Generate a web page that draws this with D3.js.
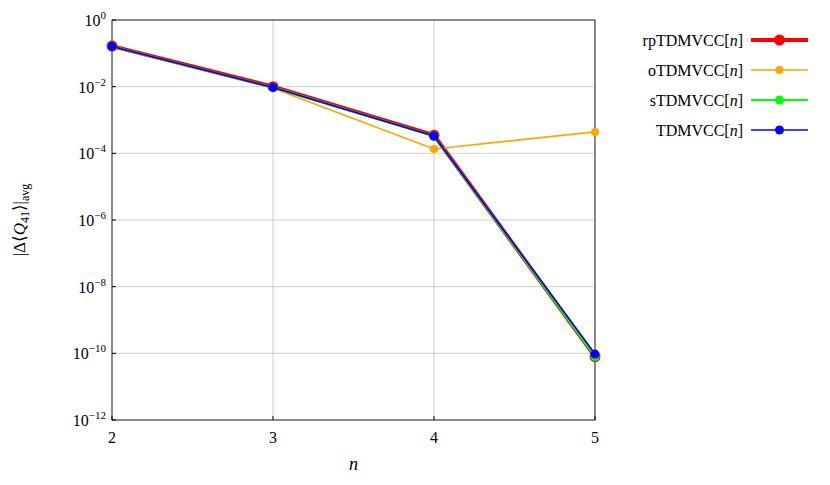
<!DOCTYPE html>
<html>
<head>
<meta charset="utf-8">
<script src="https://cdn.jsdelivr.net/npm/d3@7"></script>
<style>
body { margin: 0; background: #fff; }
text { font-family: "Liberation Serif", "DejaVu Serif", serif; }
</style>
</head>
<body>
<svg id="chart" width="830" height="485"></svg>
<script>
const nValues = [2, 3, 4, 5];
const yTickExps = [0, -2, -4, -6, -8, -10, -12];

const rpTDMVCC = [0.165, 0.0100, 3.5e-4, 8.0e-11];
const oTDMVCC = [0.160, 0.0090, 1.35e-4, 4.4e-4];
const sTDMVCC = [0.160, 0.0095, 3.3e-4, 8.0e-11];
const TDMVCC = [0.160, 0.0095, 3.3e-4, 9.5e-11];

const series = [
  { name: 'rpTDMVCC', values: rpTDMVCC, color: '#ff0000', width: 4, r: 5.5 },
  { name: 'oTDMVCC', values: oTDMVCC, color: '#ffa500', width: 1.6, r: 4 },
  { name: 'sTDMVCC', values: sTDMVCC, color: '#00ff00', width: 2.2, r: 4.5 },
  { name: 'TDMVCC', values: TDMVCC, color: '#0000ff', width: 1.6, r: 4.5 }
];

const svg = d3.select('#chart');
const pLeft = 112, pRight = 595, pTop = 20, pBottom = 420;

const x = d3.scaleLinear().domain([2, 5]).range([pLeft, pRight]);
const y = d3.scaleLog().domain([1e-12, 1]).range([pBottom, pTop]);

// grid
svg.append('g').selectAll('line').data(nValues).join('line')
  .attr('x1', d => x(d)).attr('x2', d => x(d)).attr('y1', pTop).attr('y2', pBottom)
  .attr('stroke', '#b0b0b0').attr('stroke-width', 0.6);
svg.append('g').selectAll('line').data(yTickExps).join('line')
  .attr('x1', pLeft).attr('x2', pRight).attr('y1', d => y(10 ** d)).attr('y2', d => y(10 ** d))
  .attr('stroke', '#b0b0b0').attr('stroke-width', 0.6);

svg.append('rect').attr('x', pLeft).attr('y', pTop).attr('width', pRight - pLeft).attr('height', pBottom - pTop)
  .attr('fill', 'none').attr('stroke', '#000').attr('stroke-width', 0.8);

// x ticks
const xt = svg.append('g');
xt.selectAll('line').data(nValues).join('line')
  .attr('x1', d => x(d)).attr('x2', d => x(d)).attr('y1', pBottom).attr('y2', pBottom - 4).attr('stroke', '#000');
xt.selectAll('text').data(nValues).join('text')
  .attr('x', d => x(d)).attr('y', pBottom + 23).attr('text-anchor', 'middle')
  .attr('font-size', 16).text(d => d);

// y ticks
const yt = svg.append('g');
yt.selectAll('line').data(yTickExps).join('line')
  .attr('x1', pLeft).attr('x2', pLeft + 4).attr('y1', d => y(10 ** d)).attr('y2', d => y(10 ** d)).attr('stroke', '#000');
const ytl = yt.selectAll('text').data(yTickExps).join('text')
  .attr('x', pLeft - 6).attr('y', d => y(10 ** d) + 6).attr('text-anchor', 'end').attr('font-size', 16);
ytl.append('tspan').text('10');
ytl.append('tspan').attr('dy', -7).attr('font-size', 11).text(d => d === 0 ? '0' : '\u2212' + (-d));

// axis labels
svg.append('text').attr('x', x(3.5)).attr('y', 470).attr('text-anchor', 'middle')
  .attr('font-size', 18).attr('font-style', 'italic').text('n');
const yl = svg.append('text').attr('transform', `translate(25,${(pTop + pBottom) / 2}) rotate(-90)`)
  .attr('text-anchor', 'middle').attr('font-size', 17);
yl.append('tspan').text('|Δ⟨');
yl.append('tspan').attr('font-style', 'italic').text('Q');
yl.append('tspan').attr('font-size', 12).attr('dy', 4).text('41');
yl.append('tspan').attr('dy', -4).text('⟩|');
yl.append('tspan').attr('font-size', 12).attr('dy', 4).text('avg');

// lines
const line = d3.line().x((d, i) => x(nValues[i])).y(d => y(d));
series.forEach(s => {
  const g = svg.append('g');
  g.append('path').datum(s.values).attr('d', line).attr('fill', 'none')
    .attr('stroke', s.color).attr('stroke-width', s.width).attr('stroke-linejoin', 'round');
  g.selectAll('circle').data(s.values).join('circle')
    .attr('cx', (d, i) => x(nValues[i])).attr('cy', d => y(d)).attr('r', s.r).attr('fill', s.color);
});

// legend
const lg = svg.append('g').selectAll('g').data(series).join('g')
  .attr('transform', (d, i) => `translate(0,${40 + i * 30})`);
lg.append('line').attr('x1', 751).attr('x2', 808).attr('stroke', d => d.color).attr('stroke-width', d => d.width);
lg.append('circle').attr('cx', 779.5).attr('r', d => d.r).attr('fill', d => d.color);
const lt = lg.append('text').attr('x', 743).attr('y', 6).attr('text-anchor', 'end').attr('font-size', 16);
lt.append('tspan').text(d => d.name + '[');
lt.append('tspan').attr('font-style', 'italic').text('n');
lt.append('tspan').text(']');
</script>
</body>
</html>
